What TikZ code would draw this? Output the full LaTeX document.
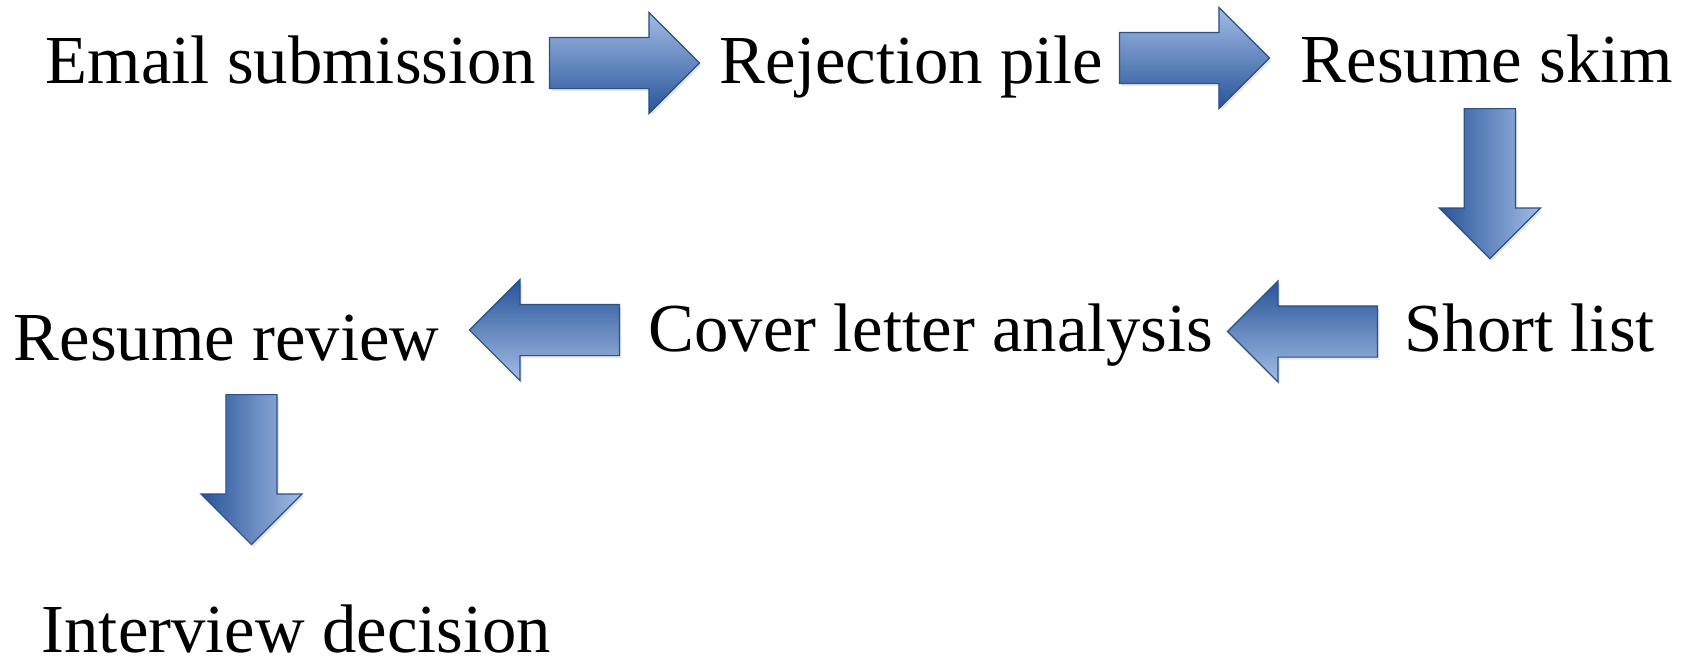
\documentclass[tikz,border=0pt]{standalone}
\usepackage{fontspec}
\setmainfont{Liberation Serif}
\usetikzlibrary{shapes.arrows,shadows,calc}

\definecolor{flowlight}{RGB}{162,188,230}
\definecolor{flowdark}{RGB}{40,84,152}
\definecolor{flowedge}{RGB}{42,80,132}

\tikzset{every picture/.style={line width=0.75pt}}
\tikzset{
  stage/.style={anchor=base west, inner sep=0pt, font=\fontsize{34.35}{41}\selectfont},
  blockarrow/.style={single arrow, draw=flowedge, line width=0.6pt, inner sep=12.5pt,
    minimum height=75pt, single arrow head extend=12.5pt,
    single arrow tip angle=90, anchor=tail,
    drop shadow={opacity=0.2, shadow xshift=1pt, shadow yshift=-1.2pt}},
  goright/.style={blockarrow, top color=flowlight, bottom color=flowdark},
  goleft/.style={blockarrow, shape border rotate=180, top color=flowdark, bottom color=flowlight},
  godown/.style={blockarrow, shape border rotate=270, left color=flowdark, right color=flowlight},
}

\begin{document}
\begin{tikzpicture}[x=0.5pt,y=0.5pt,yscale=-1,xscale=1]
	\useasboundingbox (0,0) rectangle (1687,665);

	% Text Node
	\node[stage] (email) at (45,83) {Email submission};
	% Text Node
	\node[stage] (reject) at (719,83) {Rejection pile};
	% Text Node
	\node[stage] (skim) at (1300,82) {Resume skim};
	% Text Node
	\node[stage] (short) at (1404,351) {Short list};
	% Text Node
	\node[stage] (cover) at (648,351) {Cover letter analysis};
	% Text Node
	\node[stage] (review) at (13,360) {Resume review};
	% Text Node
	\node[stage] (interview) at (41,652) {Interview decision};

	%Shape: Right Arrow
	\node[goright] (a1) at ($(email.base east)+(12,-20)$) {};
	%Shape: Right Arrow
	\node[goright] (a2) at ($(reject.base east)+(15,-25)$) {};
	%Shape: Down Arrow
	\node[godown] (a3) at ($(skim.base)+(3,26)$) {};
	%Shape: Left Arrow
	\node[goleft] (a4) at ($(short.base west)+(-26,-19.5)$) {};
	%Shape: Left Arrow
	\node[goleft] (a5) at ($(cover.base west)+(-28,-21)$) {};
	%Shape: Down Arrow
	\node[godown] (a6) at ($(review.base)+(25,34)$) {};

\end{tikzpicture}
\end{document}
